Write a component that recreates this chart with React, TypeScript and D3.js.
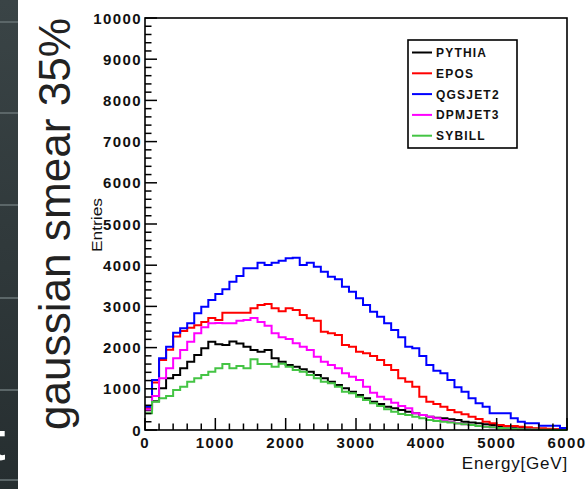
import React from 'react';
import * as d3 from 'd3';

const BIN_WIDTH = 100;
const X_MAX = 6000;
const Y_MAX = 10000;
const xTickValues = [0, 1000, 2000, 3000, 4000, 5000, 6000];
const yTickValues = [0, 1000, 2000, 3000, 4000, 5000, 6000, 7000, 8000, 9000, 10000];
const seriesNames = ['PYTHIA', 'EPOS', 'QGSJET2', 'DPMJET3', 'SYBILL'];
const seriesColors = ['#000000', '#ff0000', '#0000ff', '#ff00ff', '#44c444'];

const pythia = [480, 700, 1011, 1254, 1335, 1497, 1658, 1820, 1982, 2144, 2080, 2063, 2150, 2100, 2023, 1942, 1901, 1942, 1739, 1658, 1578, 1537, 1473, 1416, 1335, 1254, 1173, 1092, 1011, 930, 849, 769, 688, 631, 566, 526, 485, 445, 405, 364, 324, 300, 283, 260, 243, 202, 180, 162, 140, 121, 97, 81, 65, 50, 40, 30, 20, 15, 10, 5];
const epos = [526, 1150, 1700, 1950, 2270, 2400, 2480, 2540, 2620, 2720, 2670, 2848, 2848, 2848, 2848, 2953, 3034, 3058, 2953, 2880, 2953, 2913, 2791, 2710, 2654, 2387, 2346, 2306, 2063, 2023, 1901, 1861, 1796, 1699, 1578, 1456, 1254, 1173, 1052, 809, 688, 631, 566, 485, 429, 380, 324, 267, 202, 162, 121, 97, 97, 81, 65, 40, 40, 30, 16, 16];
const qgsjet2 = [566, 1214, 1740, 2023, 2362, 2467, 2589, 2832, 2994, 3155, 3300, 3415, 3600, 3738, 3924, 3924, 4061, 4005, 4061, 4110, 4170, 4180, 4005, 4061, 3964, 3843, 3721, 3657, 3479, 3358, 3196, 3034, 2872, 2751, 2589, 2427, 2249, 2023, 1982, 1796, 1578, 1440, 1375, 1214, 1036, 930, 769, 647, 566, 405, 405, 405, 283, 202, 162, 162, 105, 105, 105, 50];
const dpmjet3 = [500, 825, 1254, 1497, 1739, 1942, 2144, 2346, 2492, 2589, 2600, 2589, 2589, 2650, 2670, 2720, 2620, 2530, 2350, 2250, 2210, 2104, 2023, 1942, 1780, 1659, 1578, 1497, 1375, 1294, 1214, 1052, 906, 809, 744, 663, 582, 526, 405, 364, 324, 283, 243, 202, 162, 140, 121, 97, 81, 65, 50, 40, 30, 20, 10, 5, 3, 0, 0, 0];
const sybill = [405, 688, 769, 825, 970, 1052, 1173, 1254, 1335, 1416, 1497, 1602, 1497, 1553, 1497, 1715, 1602, 1602, 1537, 1610, 1537, 1456, 1416, 1335, 1254, 1173, 1133, 1052, 930, 890, 809, 728, 647, 582, 502, 445, 388, 364, 324, 283, 243, 220, 200, 180, 160, 140, 121, 100, 81, 65, 50, 40, 30, 20, 15, 10, 8, 5, 3, 2];

const seriesValues = [pythia, epos, qgsjet2, dpmjet3, sybill];

const FONT = 'Liberation Sans, Arial, Helvetica, sans-serif';

export default function App() {
  const W = 588;
  const H = 489;
  const left = 145, right = 567, top = 18, bottom = 430;
  const x = d3.scaleLinear().domain([0, X_MAX]).range([left, right]);
  const y = d3.scaleLinear().domain([0, Y_MAX]).range([bottom, top]);

  const line = d3
    .line<[number, number]>()
    .x((d) => x(d[0]))
    .y((d) => y(d[1]))
    .curve(d3.curveStepAfter);

  const xMinor = d3.range(0, X_MAX + 1, 200).filter((v) => v % 1000 !== 0);
  const yMinor = d3.range(0, Y_MAX + 1, 200).filter((v) => v % 1000 !== 0);

  const stripLines = [22, 113, 205, 298, 390, 480];

  const legendX0 = 408, legendY0 = 40, legendW = 109, legendH = 108;
  const legendRowY = (i: number) => 52.5 + 20.8 * i;

  return (
    <svg
      width={W}
      height={H}
      style={{ position: 'absolute', left: 0, top: 0, background: '#ffffff' }}
    >
      <defs>
        <clipPath id="strip">
          <rect x={0} y={0} width={18} height={H} />
        </clipPath>
        <linearGradient id="stripGrad" x1="0" y1="0" x2="0" y2="1">
          <stop offset="0" stopColor="#3a4446" />
          <stop offset="1" stopColor="#262e30" />
        </linearGradient>
      </defs>
      <rect x={0} y={0} width={W} height={H} fill="#ffffff" />
      {/* dark slide strip */}
      <g clipPath="url(#strip)">
        <rect x={0} y={0} width={18} height={H} fill="url(#stripGrad)" />
        {stripLines.map((ly) => (
          <line key={ly} x1={0} x2={18} y1={ly} y2={ly} stroke="#5b6668" strokeWidth={2} />
        ))}
        <text x={-13} y={460} fontFamily={FONT} fontSize={56} fontWeight="bold" fill="#ffffff">
          t
        </text>
      </g>

      {/* vertical title */}
      <text
        transform="translate(70,430) rotate(-90)"
        fontFamily={FONT}
        fontSize={44}
        fill="#222222"
        textLength={412}
        lengthAdjust="spacingAndGlyphs"
      >
        gaussian smear 35%
      </text>

      {/* histograms */}
      {seriesValues.map((vals, si) => {
        const pts: [number, number][] = vals.map((v, i) => [i * BIN_WIDTH, v] as [number, number]);
        pts.push([X_MAX, vals[vals.length - 1]]);
        return (
          <path
            key={seriesNames[si]}
            d={line(pts) || ''}
            fill="none"
            stroke={seriesColors[si]}
            strokeWidth={2}
          />
        );
      })}

      {/* frame */}
      <rect x={left} y={top} width={right - left} height={bottom - top} fill="none" stroke="#000" strokeWidth={1.6} />

      {/* y ticks */}
      {yTickValues.map((v) => (
        <line key={'ym' + v} x1={left} x2={left + 12} y1={y(v)} y2={y(v)} stroke="#000" strokeWidth={1.5} />
      ))}
      {yMinor.map((v) => (
        <line key={'yn' + v} x1={left} x2={left + 6.5} y1={y(v)} y2={y(v)} stroke="#000" strokeWidth={1.5} />
      ))}
      {/* x ticks */}
      {xTickValues.map((v) => (
        <line key={'xm' + v} x1={x(v)} x2={x(v)} y1={bottom} y2={bottom - 12} stroke="#000" strokeWidth={1.5} />
      ))}
      {xMinor.map((v) => (
        <line key={'xn' + v} x1={x(v)} x2={x(v)} y1={bottom} y2={bottom - 6.5} stroke="#000" strokeWidth={1.5} />
      ))}

      {/* y tick labels */}
      {yTickValues.map((v) => (
        <text
          key={'yl' + v}
          x={left - 3}
          y={y(v) + 5.5}
          textAnchor="end"
          fontFamily={FONT}
          fontSize={15}
          fontWeight="bold"
          letterSpacing={1.4}
          fill="#111"
        >
          {v}
        </text>
      ))}
      {/* x tick labels */}
      {xTickValues.map((v) => (
        <text
          key={'xl' + v}
          x={x(v)}
          y={448}
          textAnchor="middle"
          fontFamily={FONT}
          fontSize={15}
          fontWeight="bold"
          letterSpacing={1.4}
          fill="#111"
        >
          {v}
        </text>
      ))}

      {/* axis titles */}
      <text
        x={568}
        y={469}
        textAnchor="end"
        fontFamily={FONT}
        fontSize={17}
        letterSpacing={0.8}
        fill="#111"
      >
        Energy[GeV]
      </text>
      <text
        transform="translate(102,252) rotate(-90)"
        fontFamily={FONT}
        fontSize={14}
        fill="#111"
        textLength={54}
        lengthAdjust="spacingAndGlyphs"
      >
        Entries
      </text>

      {/* legend */}
      <rect x={legendX0} y={legendY0} width={legendW} height={legendH} fill="#ffffff" stroke="#000" strokeWidth={1.6} />
      {seriesNames.map((name, i) => (
        <g key={'lg' + name}>
          <line
            x1={412}
            x2={432}
            y1={legendRowY(i)}
            y2={legendRowY(i)}
            stroke={seriesColors[i]}
            strokeWidth={2}
          />
          <text
            x={436}
            y={legendRowY(i) + 4.5}
            fontFamily={FONT}
            fontSize={12}
            fontWeight="bold"
            letterSpacing={1.2}
            fill="#111"
          >
            {name}
          </text>
        </g>
      ))}
    </svg>
  );
}
